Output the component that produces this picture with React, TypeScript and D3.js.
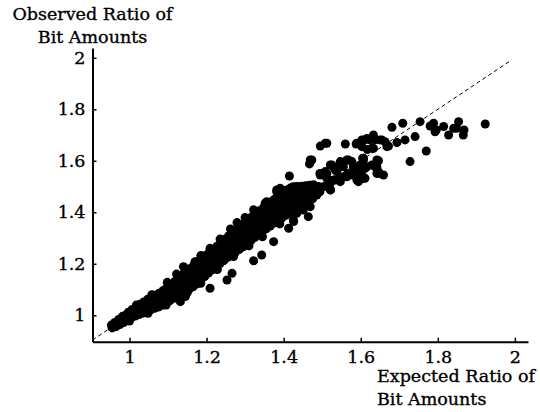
import React, { useEffect, useRef } from "react"
import * as d3 from "d3"

// tick values on both axes
const xTicks = [1, 1.2, 1.4, 1.6, 1.8, 2]
const yTicks = [1, 1.2, 1.4, 1.6, 1.8, 2]
const yTitle = ["Observed Ratio of", "Bit Amounts"]
const xTitle = ["Expected Ratio of", "Bit Amounts"]

// dense band of points, expected vs observed ratio (x, y)
const bandPoints: [number, number][] = [
	[0.955, 0.951], [0.958, 0.957], [0.953, 0.962],
	[0.965, 0.956], [0.968, 0.964], [0.962, 0.972],
	[0.975, 0.964], [0.978, 0.974], [0.972, 0.984],
	[0.985, 0.972], [0.988, 0.984], [0.982, 0.996],
	[0.995, 0.982], [0.999, 0.992], [0.992, 1.002], [0.997, 1.012],
	[1.005, 0.991], [1.009, 1.002], [1.002, 1.012], [1.007, 1.023],
	[1.015, 0.997], [1.019, 1.009], [1.012, 1.021], [1.017, 1.033],
	[1.025, 1.003], [1.029, 1.016], [1.022, 1.030], [1.027, 1.043],
	[1.035, 1.009], [1.039, 1.023], [1.032, 1.038], [1.037, 1.052],
	[1.045, 1.015], [1.049, 1.031], [1.042, 1.046], [1.047, 1.062],
	[1.055, 1.021], [1.059, 1.037], [1.052, 1.054], [1.057, 1.070],
	[1.065, 1.027], [1.069, 1.044], [1.062, 1.061], [1.067, 1.078],
	[1.075, 1.032], [1.079, 1.050], [1.072, 1.068], [1.077, 1.086],
	[1.085, 1.039], [1.089, 1.058], [1.082, 1.077], [1.087, 1.096],
	[1.095, 1.048], [1.099, 1.068], [1.092, 1.087], [1.097, 1.107],
	[1.105, 1.057], [1.109, 1.077], [1.102, 1.098], [1.107, 1.119],
	[1.115, 1.066], [1.119, 1.087], [1.112, 1.109], [1.117, 1.131],
	[1.125, 1.075], [1.129, 1.098], [1.122, 1.122], [1.127, 1.145],
	[1.135, 1.084], [1.139, 1.108], [1.132, 1.133], [1.137, 1.158],
	[1.145, 1.093], [1.149, 1.118], [1.142, 1.144], [1.147, 1.170],
	[1.155, 1.102], [1.159, 1.128], [1.152, 1.155], [1.157, 1.182],
	[1.165, 1.111], [1.169, 1.139], [1.162, 1.167], [1.167, 1.196],
	[1.175, 1.122], [1.179, 1.151], [1.172, 1.180], [1.177, 1.209],
	[1.185, 1.136], [1.189, 1.164], [1.182, 1.192], [1.187, 1.220],
	[1.195, 1.150], [1.199, 1.177], [1.192, 1.205], [1.197, 1.232],
	[1.205, 1.164], [1.209, 1.190], [1.202, 1.217], [1.207, 1.244],
	[1.215, 1.177], [1.219, 1.203], [1.212, 1.230], [1.217, 1.256],
	[1.225, 1.189], [1.229, 1.215], [1.222, 1.242], [1.227, 1.268],
	[1.235, 1.201], [1.239, 1.228], [1.232, 1.255], [1.237, 1.282],
	[1.245, 1.213], [1.249, 1.240], [1.242, 1.268], [1.247, 1.295],
	[1.255, 1.225], [1.259, 1.253], [1.252, 1.280], [1.257, 1.308],
	[1.265, 1.236], [1.269, 1.264], [1.262, 1.292], [1.267, 1.320],
	[1.275, 1.246], [1.279, 1.275], [1.272, 1.303], [1.277, 1.332],
	[1.285, 1.256], [1.289, 1.285], [1.282, 1.315], [1.287, 1.344],
	[1.295, 1.266], [1.299, 1.296], [1.292, 1.326], [1.297, 1.356],
	[1.305, 1.278], [1.309, 1.309], [1.302, 1.339], [1.307, 1.370],
	[1.315, 1.290], [1.319, 1.321], [1.312, 1.351], [1.317, 1.382],
	[1.325, 1.302], [1.329, 1.333], [1.322, 1.363], [1.327, 1.394],
	[1.335, 1.314], [1.339, 1.345], [1.332, 1.375], [1.337, 1.406],
	[1.345, 1.325], [1.349, 1.356], [1.342, 1.386], [1.347, 1.417],
	[1.355, 1.336], [1.359, 1.367], [1.352, 1.397], [1.357, 1.428],
	[1.365, 1.347], [1.369, 1.378], [1.362, 1.409], [1.367, 1.440],
	[1.375, 1.358], [1.379, 1.389], [1.372, 1.420], [1.377, 1.451],
	[1.385, 1.368], [1.389, 1.399], [1.382, 1.431], [1.387, 1.462],
	[1.395, 1.378], [1.399, 1.410], [1.392, 1.441], [1.397, 1.473],
	[1.405, 1.388], [1.409, 1.420], [1.402, 1.452], [1.407, 1.484],
	[1.415, 1.398], [1.419, 1.430], [1.412, 1.462], [1.417, 1.494],
	[1.425, 1.408], [1.429, 1.438], [1.422, 1.467], [1.427, 1.497],
	[1.435, 1.418], [1.439, 1.445], [1.432, 1.472], [1.437, 1.499],
	[1.445, 1.428], [1.449, 1.452], [1.442, 1.477], [1.447, 1.501],
	[1.455, 1.436], [1.459, 1.459], [1.452, 1.481], [1.457, 1.503],
	[1.465, 1.444], [1.469, 1.465], [1.462, 1.485], [1.467, 1.505],
	[1.475, 1.452], [1.479, 1.470], [1.472, 1.489], [1.477, 1.507],
]

// points sitting on the rims of the band
const bandEdgePoints: [number, number][] = [
	[1.140, 1.189], [1.170, 1.208], [1.209, 1.260], [1.279, 1.360], [1.352, 1.435], [1.382, 1.487],
	[1.408, 1.487], [1.425, 1.499], [1.443, 1.493], [1.391, 1.493], [1.382, 1.480], [1.417, 1.487],
	[1.434, 1.500], [1.443, 1.487], [1.460, 1.500], [1.415, 1.541], [1.356, 1.441], [1.374, 1.448],
	[1.391, 1.435], [1.408, 1.441], [1.425, 1.448], [1.443, 1.461], [1.460, 1.454], [1.451, 1.461],
	[1.348, 1.409], [1.365, 1.396], [1.391, 1.402], [1.408, 1.409], [1.382, 1.377], [1.356, 1.370],
	[1.018, 1.040], [1.058, 1.080], [1.098, 1.128], [1.122, 1.160], [1.185, 1.232], [1.235, 1.296],
	[1.262, 1.335], [1.300, 1.380], [1.322, 1.410], [1.000, 0.978], [1.048, 1.008], [1.095, 1.040],
	[1.150, 1.088], [1.185, 1.124], [1.228, 1.178], [1.270, 1.228], [1.310, 1.270], [1.345, 1.305],
	[1.390, 1.355],
]

// points falling below the band
const lowOutliers: [number, number][] = [
	[1.469, 1.448], [1.477, 1.474], [1.464, 1.383], [1.426, 1.364], [1.413, 1.338], [1.374, 1.286],
	[1.343, 1.234], [1.322, 1.212], [1.266, 1.163], [1.253, 1.137], [1.209, 1.105], [1.132, 1.053],
	[1.145, 1.073], [1.469, 1.422], [1.451, 1.409], [1.434, 1.396], [1.425, 1.370],
]

// 1.45 to 1.6 cluster
const midPoints: [number, number][] = [
	[1.560, 1.665], [1.512, 1.668], [1.495, 1.657], [1.508, 1.668], [1.469, 1.603], [1.467, 1.588],
	[1.473, 1.603], [1.564, 1.603], [1.547, 1.590], [1.538, 1.571], [1.529, 1.577], [1.577, 1.597],
	[1.581, 1.577], [1.568, 1.551], [1.555, 1.538], [1.547, 1.519], [1.529, 1.525], [1.512, 1.551],
	[1.495, 1.545], [1.490, 1.500], [1.522, 1.487], [1.512, 1.506], [1.477, 1.500], [1.538, 1.558],
	[1.494, 1.551], [1.525, 1.584], [1.534, 1.564], [1.547, 1.597], [1.555, 1.577], [1.568, 1.603],
	[1.598, 1.584], [1.607, 1.610], [1.616, 1.577], [1.590, 1.532], [1.564, 1.538], [1.547, 1.532],
	[1.534, 1.525], [1.521, 1.513], [1.503, 1.499], [1.521, 1.487], [1.585, 1.564], [1.598, 1.558],
	[1.611, 1.532], [1.590, 1.525], [1.572, 1.545], [1.521, 1.584], [1.508, 1.558], [1.512, 1.532],
	[1.607, 1.603], [1.603, 1.558], [1.590, 1.668], [1.603, 1.681], [1.486, 1.467], [1.494, 1.480],
]

// upper right spread
const upperPoints: [number, number][] = [
	[1.923, 1.743], [1.866, 1.700], [1.868, 1.720], [1.854, 1.752], [1.841, 1.726], [1.849, 1.726],
	[1.828, 1.700], [1.815, 1.733], [1.796, 1.720], [1.793, 1.713], [1.789, 1.746], [1.780, 1.735],
	[1.754, 1.752], [1.741, 1.694], [1.709, 1.746], [1.715, 1.681], [1.694, 1.671], [1.681, 1.730],
	[1.728, 1.597], [1.770, 1.638], [1.672, 1.657], [1.655, 1.681], [1.637, 1.681], [1.633, 1.700],
	[1.624, 1.681], [1.611, 1.681], [1.616, 1.687], [1.603, 1.655], [1.588, 1.665], [1.617, 1.644],
	[1.633, 1.648], [1.646, 1.600], [1.637, 1.577], [1.659, 1.545], [1.646, 1.551], [1.607, 1.532],
	[1.594, 1.519], [1.611, 1.571], [1.605, 1.610], [1.668, 1.655], [1.663, 1.674], [1.650, 1.681],
	[1.629, 1.649], [1.642, 1.603], [1.642, 1.577], [1.646, 1.558], [1.642, 1.551], [1.629, 1.584],
]

const W = 540
const H = 412
const FONT = "'DejaVu Serif', serif"

export default function App() {
	const ref = useRef<SVGSVGElement>(null)

	useEffect(() => {
		const svg = d3.select(ref.current)
		svg.selectAll("*").remove()

		const x = d3.scaleLinear().domain([0.904, 2.034]).range([92.5, 528])
		const y = d3.scaleLinear().domain([0.8975, 2.038]).range([341.7, 48])

		// reference diagonal
		svg
			.append("line")
			.attr("x1", x(0.904))
			.attr("y1", y(0.904))
			.attr("x2", x(1.99))
			.attr("y2", y(1.99))
			.attr("stroke", "#000")
			.attr("stroke-width", 1)
			.attr("stroke-dasharray", "4,3")

		const all = [...bandPoints, ...bandEdgePoints, ...lowOutliers, ...midPoints, ...upperPoints]
		svg
			.append("g")
			.selectAll("circle")
			.data(all)
			.join("circle")
			.attr("cx", d => x(d[0]))
			.attr("cy", d => y(d[1]))
			.attr("r", 4.5)
			.attr("fill", "#000")

		// axes with inward ticks
		const gx = svg
			.append("g")
			.attr("transform", `translate(0,${y.range()[0]})`)
			.call(
				d3
					.axisBottom(x)
					.tickValues(xTicks)
					.tickFormat(d => String(d))
					.tickSizeInner(-4)
					.tickSizeOuter(0)
					.tickPadding(9),
			)
		const gy = svg
			.append("g")
			.attr("transform", `translate(${x.range()[0]},0)`)
			.call(
				d3
					.axisLeft(y)
					.tickValues(yTicks)
					.tickFormat(d => String(d))
					.tickSizeInner(-4)
					.tickSizeOuter(0)
					.tickPadding(7),
			)
		for (const g of [gx, gy]) {
			g.attr("font-family", FONT).attr("font-size", 17.5)
			g.select(".domain").attr("stroke-width", 2)
			g.selectAll(".tick line").attr("stroke-width", 1.5)
			g.selectAll(".tick text").attr("fill", "#000").attr("stroke", "#000").attr("stroke-width", 0.35)
		}

		// axis titles
		const titleStyle = (t: d3.Selection<any, string, any, any>) =>
			t
				.attr("font-family", FONT)
				.attr("font-size", 17.5)
				.attr("fill", "#000")
				.attr("stroke", "#000")
				.attr("stroke-width", 0.35)
				.text(d => d)

		svg
			.append("g")
			.selectAll("text")
			.data(yTitle)
			.join("text")
			.attr("x", 92.5)
			.attr("y", (_, i) => 20 + i * 23)
			.attr("text-anchor", "middle")
			.call(titleStyle)

		svg
			.append("g")
			.selectAll("text")
			.data(xTitle)
			.join("text")
			.attr("x", 377)
			.attr("y", (_, i) => 381.7 + i * 23.3)
			.call(titleStyle)
	}, [])

	return (
		<svg
			ref={ref}
			width={W}
			height={H}
			style={{ position: "absolute", left: 0, top: 0, background: "#fff" }}
		/>
	)
}
